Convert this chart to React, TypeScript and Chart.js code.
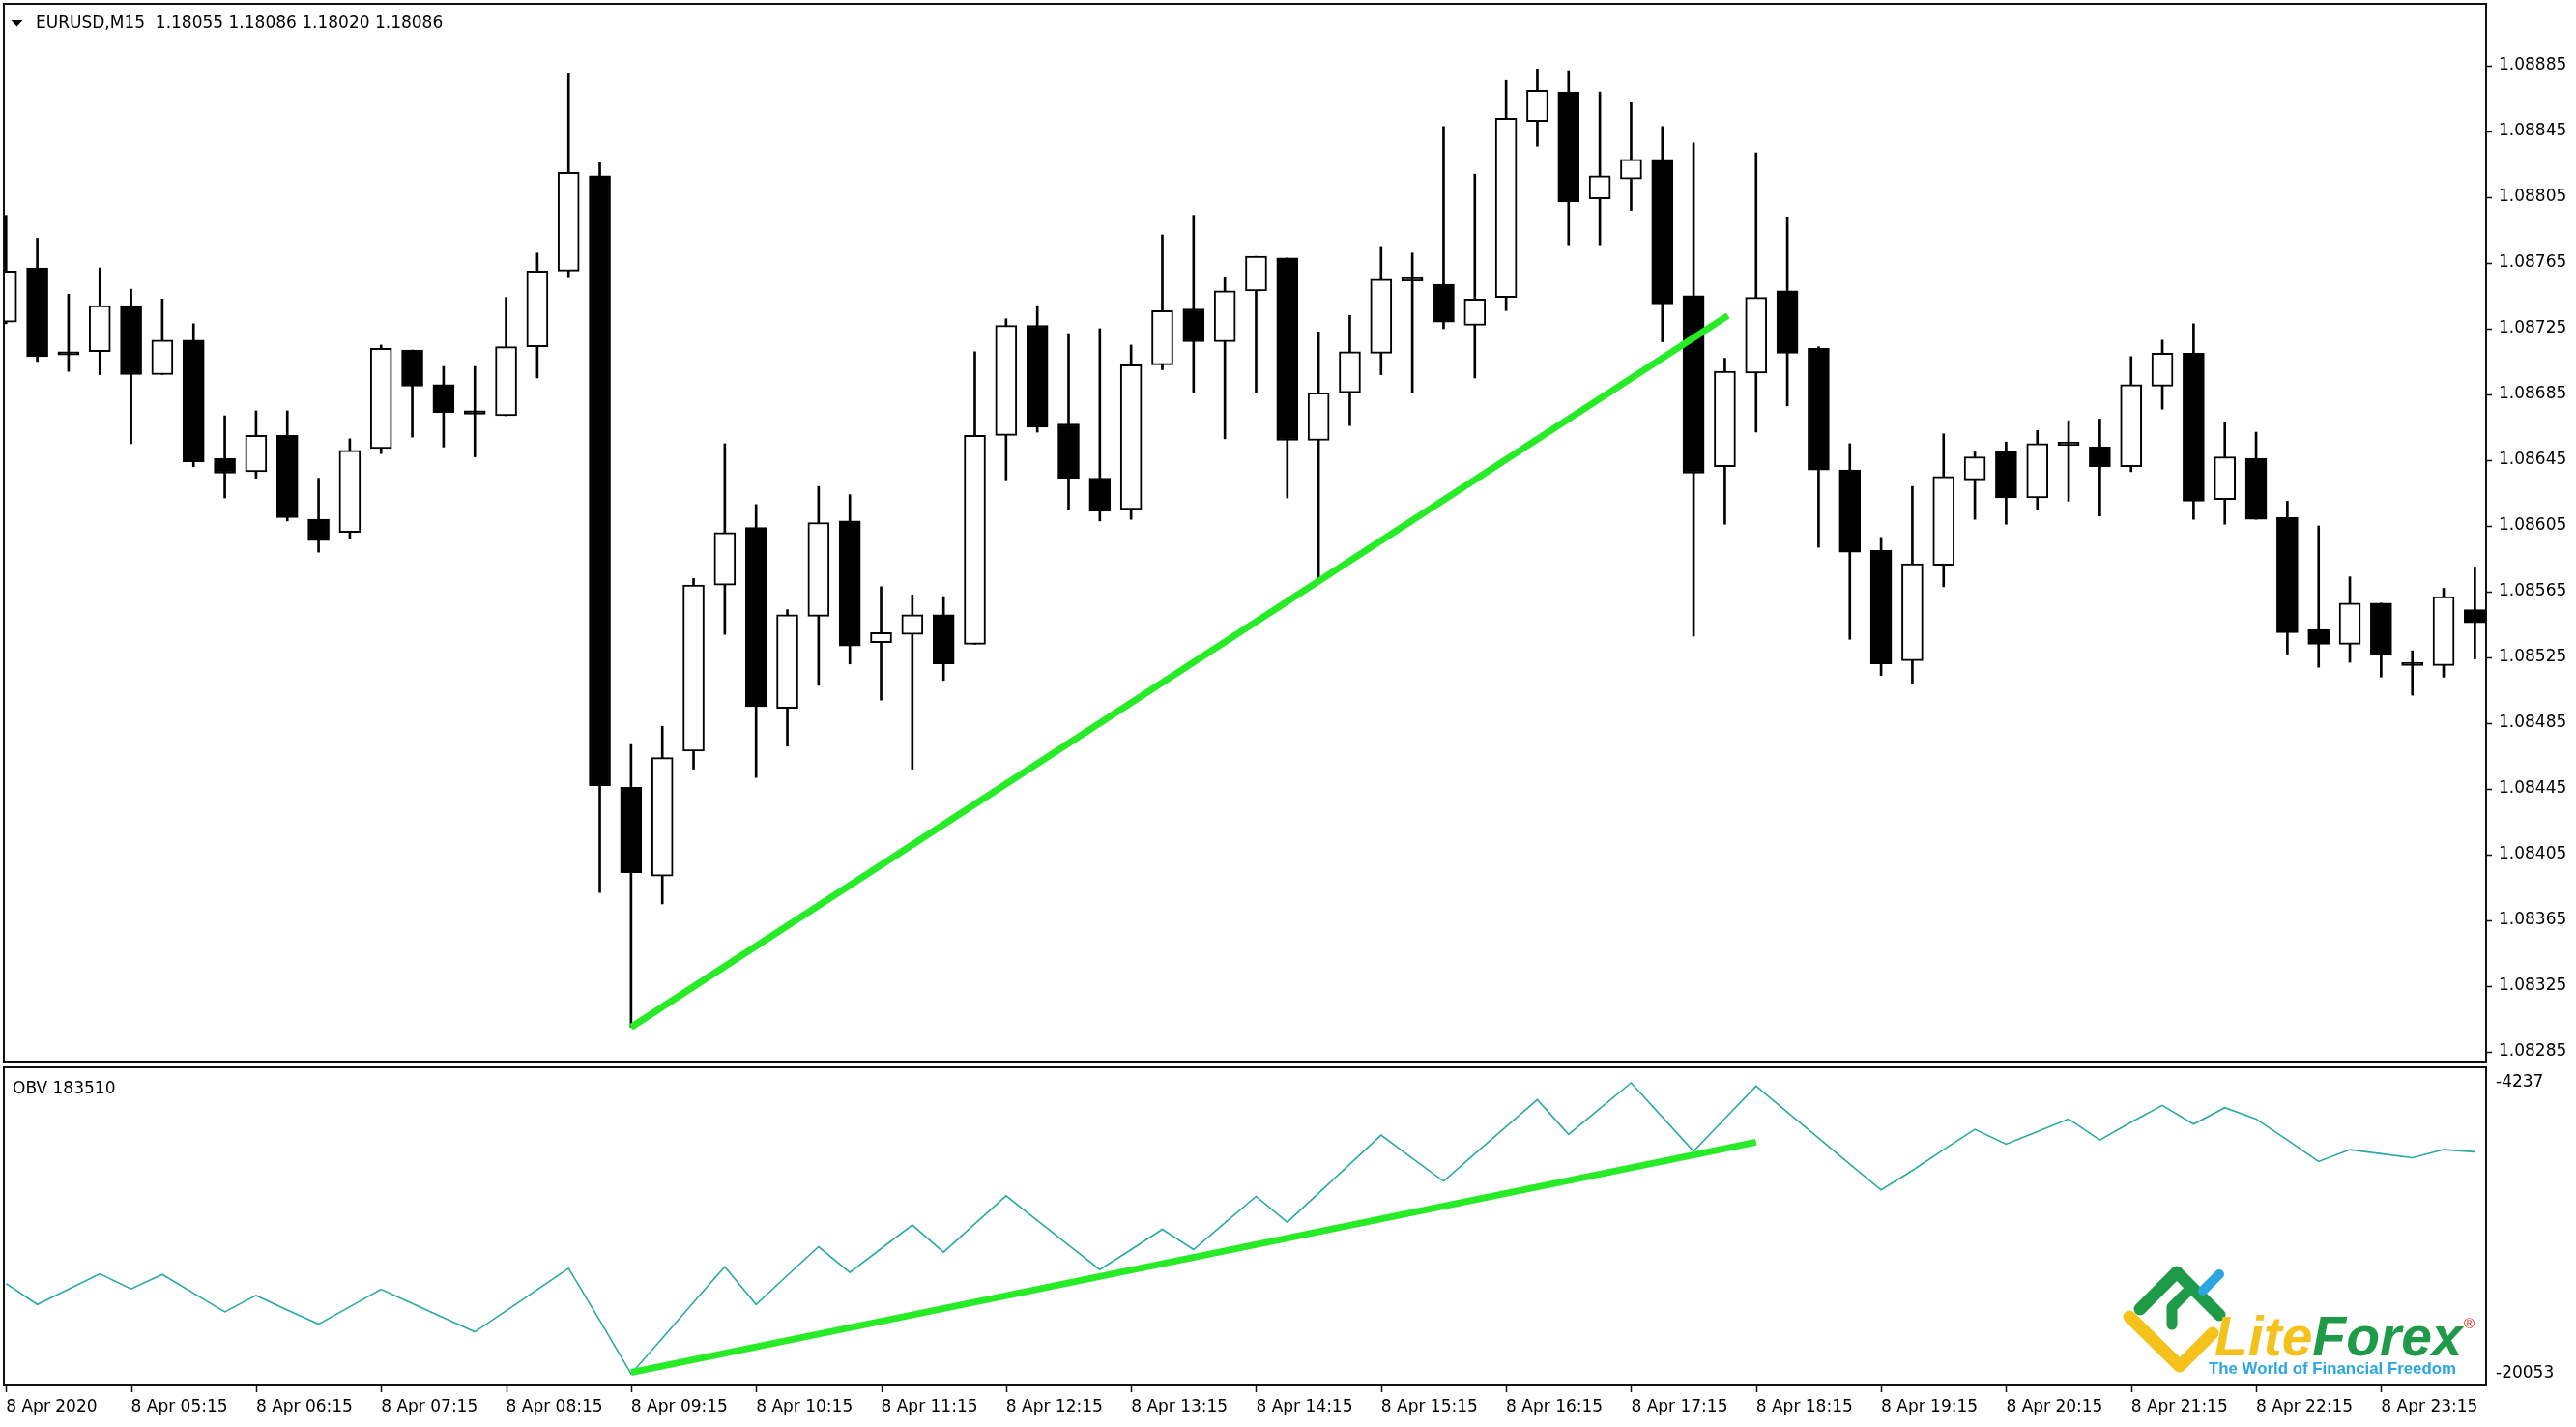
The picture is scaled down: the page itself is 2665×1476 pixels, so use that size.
import React, { useEffect, useRef } from "react";
import { Chart, registerables } from "chart.js";

Chart.register(...registerables);

// ---------------- data ----------------
const opens = [
  1.08729, 1.08762, 1.08711, 1.08711, 1.08739, 1.08697, 1.08718, 1.08646, 1.08638, 1.0866,
  1.08609, 1.08601, 1.08652, 1.08712, 1.08691, 1.08675, 1.08672, 1.08714, 1.0876, 1.08818,
  1.08446, 1.08392, 1.08468, 1.08569, 1.08604, 1.08494, 1.0855, 1.08608, 1.08534, 1.08539,
  1.08551, 1.08533, 1.0866, 1.08727, 1.08667, 1.08634, 1.08615, 1.08703, 1.08737, 1.08717,
  1.08748, 1.08768, 1.08657, 1.08686, 1.0871, 1.08756, 1.08752, 1.08727, 1.08744, 1.08851,
  1.08869, 1.08804, 1.08816, 1.08828, 1.08745, 1.08641, 1.08698, 1.08748, 1.08713, 1.08639,
  1.0859, 1.08523, 1.08581, 1.08633, 1.0865, 1.08622, 1.08656, 1.08653, 1.08641, 1.0869,
  1.0871, 1.08621, 1.08646, 1.0861, 1.08542, 1.08533, 1.08558, 1.08522, 1.0852, 1.08554,
];
const highs = [
  1.08794, 1.0878, 1.08746, 1.08762, 1.08749, 1.08743, 1.08728, 1.08672, 1.08675, 1.08675,
  1.08634, 1.08658, 1.08715, 1.08712, 1.08702, 1.08702, 1.08744, 1.08771, 1.0888, 1.08826,
  1.08472, 1.08483, 1.08573, 1.08655, 1.08618, 1.08554, 1.08629, 1.08624, 1.08568, 1.08563,
  1.08562, 1.08711, 1.08731, 1.08739, 1.08722, 1.08725, 1.08715, 1.08782, 1.08794, 1.08756,
  1.08769, 1.08768, 1.08723, 1.08733, 1.08775, 1.08771, 1.08848, 1.08819, 1.08876, 1.08883,
  1.08882, 1.08869, 1.08863, 1.08848, 1.08838, 1.08707, 1.08832, 1.08793, 1.08714, 1.08655,
  1.08598, 1.08629, 1.08661, 1.0865, 1.08656, 1.08663, 1.08669, 1.0867, 1.08708, 1.08718,
  1.08728, 1.08668, 1.08662, 1.0862, 1.08605, 1.08574, 1.08558, 1.08529, 1.08567, 1.0858,
];
const lows = [
  1.08728, 1.08705, 1.08699, 1.08697, 1.08655, 1.08697, 1.08641, 1.08622, 1.08634, 1.08608,
  1.08589, 1.08597, 1.08649, 1.08659, 1.08653, 1.08647, 1.08672, 1.08695, 1.08756, 1.08382,
  1.083, 1.08375, 1.08457, 1.08539, 1.08452, 1.08471, 1.08508, 1.08521, 1.08499, 1.08457,
  1.08511, 1.08533, 1.08633, 1.08662, 1.08615, 1.08608, 1.08609, 1.087, 1.08686, 1.08658,
  1.08686, 1.08622, 1.08571, 1.08666, 1.08697, 1.08686, 1.08725, 1.08695, 1.08736, 1.08836,
  1.08776, 1.08776, 1.08797, 1.08717, 1.08538, 1.08606, 1.08662, 1.08678, 1.08592, 1.08536,
  1.08514, 1.08509, 1.08568, 1.08609, 1.08606, 1.08615, 1.0862, 1.08611, 1.08638, 1.08676,
  1.08609, 1.08606, 1.08609, 1.08527, 1.08519, 1.08522, 1.08513, 1.08502, 1.08513, 1.08524,
];
const closes = [
  1.0876, 1.08708, 1.08709, 1.08739, 1.08697, 1.08718, 1.08644, 1.08637, 1.0866, 1.0861,
  1.08596, 1.08651, 1.08713, 1.0869, 1.08674, 1.08673, 1.08714, 1.0876, 1.0882, 1.08447,
  1.08394, 1.08464, 1.08569, 1.08601, 1.08495, 1.08551, 1.08607, 1.08532, 1.0854, 1.08551,
  1.08521, 1.0866, 1.08727, 1.08665, 1.08634, 1.08614, 1.08703, 1.08736, 1.08717, 1.08748,
  1.08769, 1.08657, 1.08686, 1.08711, 1.08755, 1.08754, 1.08729, 1.08743, 1.08853, 1.0887,
  1.08802, 1.08818, 1.08828, 1.0874, 1.08637, 1.08699, 1.08744, 1.0871, 1.08639, 1.08589,
  1.08521, 1.08582, 1.08635, 1.08647, 1.08622, 1.08655, 1.08654, 1.08641, 1.08691, 1.0871,
  1.0862, 1.08647, 1.08609, 1.0854, 1.08533, 1.08558, 1.08527, 1.0852, 1.08562, 1.08546,
];
const obvValues = [
  -15143, -16283, -15459, -14617, -15441, -14652, -15669, -16686, -15792, -16581,
  -17352, -16406, -15459, -16230, -17002, -17773, -16634, -15476, -14319, -17160,
  -20053, -18124, -16160, -14231, -16283, -14705, -13144, -14547, -13249, -11969,
  -13442, -11899, -10374, -11724, -13057, -14389, -13302, -12197, -13302, -11847,
  -10409, -11812, -10234, -8656, -7078, -8340, -9585, -8094, -6622, -5149,
  -7042, -5640, -4237, -6096, -7954, -6183, -4412, -5833, -7235, -8656,
  -10058, -9006, -7867, -6762, -7568, -6885, -6201, -7341, -6376, -5464,
  -6481, -5587, -6201, -7341, -8515, -7867, -8094, -8305, -7867, -7989,
];
const timeTickIndex = [0, 4, 8, 12, 16, 20, 24, 28, 32, 36, 40, 44, 48, 52, 56, 60, 64, 68, 72, 76];
const timeTickLabels = [
  "8 Apr 2020", "8 Apr 05:15", "8 Apr 06:15", "8 Apr 07:15", "8 Apr 08:15",
  "8 Apr 09:15", "8 Apr 10:15", "8 Apr 11:15", "8 Apr 12:15", "8 Apr 13:15",
  "8 Apr 14:15", "8 Apr 15:15", "8 Apr 16:15", "8 Apr 17:15", "8 Apr 18:15",
  "8 Apr 19:15", "8 Apr 20:15", "8 Apr 21:15", "8 Apr 22:15", "8 Apr 23:15",
];
const priceTicks = [
  1.08885, 1.08845, 1.08805, 1.08765, 1.08725, 1.08685, 1.08645, 1.08605,
  1.08565, 1.08525, 1.08485, 1.08445, 1.08405, 1.08365, 1.08325, 1.08285,
];
const obvTicks = [-4237, -20053];
const priceTrendX = [20, 55.1];
const priceTrendY = [1.083, 1.08733];
const obvTrendX = [20, 56];
const obvTrendY = [-19980, -7460];
const headerText = "EURUSD,M15  1.18055 1.18086 1.18020 1.18086";
const obvLabel = "OBV 183510";

// ---------------- layout ----------------
const W = 2665;
const MAIN_H = 1100;
const OBV_H = 376;
const X_MIN = -0.07;
const X_MAX = 79.36;
const FONT = '"DejaVu Sans", Tahoma, sans-serif';
const GREEN = "rgb(40,235,40)";

const framePlugin = (kind: "main" | "obv") => ({
  id: "frame_" + kind,
  afterDraw(chart: any) {
    const { ctx, chartArea: a } = chart;
    ctx.save();
    ctx.strokeStyle = "#111";
    ctx.lineWidth = 2;
    ctx.strokeRect(a.left, a.top, a.right - a.left, a.bottom - a.top);
    ctx.lineWidth = 1.5;
    ctx.beginPath();
    if (kind === "main") {
      const ys = chart.scales.y;
      for (const v of priceTicks) {
        const y = Math.round(ys.getPixelForValue(v)) + 0.5;
        ctx.moveTo(a.right, y);
        ctx.lineTo(a.right + 6, y);
      }
    } else {
      const xs = chart.scales.x;
      for (const v of timeTickIndex) {
        const x = Math.round(xs.getPixelForValue(v)) + 0.5;
        ctx.moveTo(x, a.bottom);
        ctx.lineTo(x, a.bottom + 7);
      }
    }
    ctx.stroke();

    ctx.fillStyle = "#000";
    ctx.font = `17px ${FONT}`;
    ctx.textBaseline = "middle";
    ctx.textAlign = "left";
    if (kind === "main") {
      ctx.beginPath();
      ctx.moveTo(11.5, 21);
      ctx.lineTo(23.5, 21);
      ctx.lineTo(17.5, 27.5);
      ctx.closePath();
      ctx.fill();
      ctx.fillText(headerText, 37, 24.5);
    } else {
      ctx.fillText(obvLabel, 13, 27);
      drawLogo(ctx, -MAIN_H);
    }
    ctx.restore();
  },
});

function drawLogo(ctx: CanvasRenderingContext2D, oy: number) {
  const stroke = (pts: number[][], color: string, w: number) => {
    ctx.beginPath();
    ctx.strokeStyle = color;
    ctx.lineWidth = w;
    ctx.lineCap = "round";
    ctx.lineJoin = "round";
    pts.forEach((p, i) => (i === 0 ? ctx.moveTo(p[0], p[1] + oy) : ctx.lineTo(p[0], p[1] + oy)));
    ctx.stroke();
  };
  stroke([[2203, 1362], [2255, 1413], [2289, 1379]], "#F5C11B", 13);
  stroke([[2214, 1354], [2252, 1316], [2296, 1360]], "#1F9A48", 13);
  stroke([[2247, 1370], [2247, 1352], [2262, 1337]], "#1F9A48", 11);
  stroke([[2279, 1335], [2296, 1318]], "#2AA7E1", 10);

  ctx.textBaseline = "alphabetic";
  ctx.textAlign = "left";
  ctx.font = 'italic bold 57px "Liberation Sans", Arial, sans-serif';
  ctx.fillStyle = "#F5C11B";
  ctx.fillText("Lite", 2291, 1402 + oy);
  const lw = ctx.measureText("Lite").width;
  ctx.fillStyle = "#1F9A48";
  ctx.fillText("Forex", 2291 + lw, 1402 + oy);
  ctx.font = '15px "Liberation Sans", Arial, sans-serif';
  ctx.fillStyle = "#E2231A";
  ctx.fillText("®", 2549, 1374 + oy);
  ctx.font = 'bold 17px "Liberation Sans", Arial, sans-serif';
  ctx.fillStyle = "#2AA7E1";
  ctx.fillText("The World of Financial Freedom", 2285, 1421 + oy, 256);
}

export default function App() {
  const mainRef = useRef<HTMLCanvasElement>(null);
  const obvRef = useRef<HTMLCanvasElement>(null);

  useEffect(() => {
    const idx = opens.map((_, i) => i);
    const wickData = idx.map((i) => ({ x: i, y: [lows[i], highs[i]] }));
    const bodyData = idx.map((i) => ({
      x: i,
      y: [Math.min(opens[i], closes[i]), Math.max(opens[i], closes[i])],
    }));
    const bodyColors = idx.map((i) => (closes[i] > opens[i] ? "#ffffff" : "#000000"));

    const tickFont = { family: FONT, size: 17 };

    const main = new Chart(mainRef.current as HTMLCanvasElement, {
      type: "bar",
      data: {
        datasets: [
          {
            type: "bar",
            data: wickData as any,
            backgroundColor: "#000",
            borderWidth: 0,
            barThickness: 2,
            grouped: false,
            order: 3,
          } as any,
          {
            type: "bar",
            data: bodyData as any,
            backgroundColor: bodyColors,
            borderColor: "#000",
            borderWidth: 2,
            borderSkipped: false,
            barThickness: 22,
            grouped: false,
            order: 2,
          } as any,
          {
            type: "line",
            data: priceTrendX.map((x, i) => ({ x, y: priceTrendY[i] })),
            borderColor: GREEN,
            borderWidth: 7,
            pointRadius: 0,
            order: 1,
          } as any,
        ],
      },
      options: {
        animation: false,
        responsive: false,
        maintainAspectRatio: false,
        devicePixelRatio: 1,
        events: [],
        layout: { padding: { left: 4, top: 4, right: 0, bottom: 2 } },
        plugins: { legend: { display: false }, tooltip: { enabled: false } },
        scales: {
          x: {
            type: "linear",
            min: X_MIN,
            max: X_MAX,
            offset: false,
            display: false,
          },
          y: {
            position: "right",
            min: 1.082791,
            max: 1.089226,
            grid: { display: false, drawTicks: false },
            border: { display: false },
            afterBuildTicks: (s: any) => {
              s.ticks = priceTicks.map((v) => ({ value: v }));
            },
            afterFit: (s: any) => {
              s.width = 93;
              s.paddingTop = 0;
              s.paddingBottom = 0;
            },
            ticks: {
              autoSkip: false,
              padding: 13,
              color: "#000",
              font: tickFont,
              callback: (v: any) => Number(v).toFixed(5),
            },
          } as any,
        },
      },
      plugins: [framePlugin("main")],
    });

    const obv = new Chart(obvRef.current as HTMLCanvasElement, {
      type: "line",
      data: {
        datasets: [
          {
            data: idx.map((i) => ({ x: i, y: obvValues[i] })),
            borderColor: "#2aa9a6",
            borderWidth: 1.6,
            pointRadius: 0,
            tension: 0,
            order: 2,
          },
          {
            data: obvTrendX.map((x, i) => ({ x, y: obvTrendY[i] })),
            borderColor: GREEN,
            borderWidth: 7,
            pointRadius: 0,
            order: 1,
          },
        ] as any,
      },
      options: {
        animation: false,
        responsive: false,
        maintainAspectRatio: false,
        devicePixelRatio: 1,
        events: [],
        layout: { padding: { left: 4, top: 4, right: 0, bottom: 0 } },
        plugins: { legend: { display: false }, tooltip: { enabled: false } },
        scales: {
          x: {
            type: "linear",
            min: X_MIN,
            max: X_MAX,
            offset: false,
            grid: { display: false, drawTicks: false },
            border: { display: false },
            afterBuildTicks: (s: any) => {
              s.ticks = timeTickIndex.map((v) => ({ value: v }));
            },
            afterFit: (s: any) => {
              s.height = 43;
              s.paddingLeft = 0;
              s.paddingRight = 0;
            },
            ticks: {
              autoSkip: false,
              maxRotation: 0,
              minRotation: 0,
              align: "start",
              padding: 12,
              color: "#000",
              font: tickFont,
              callback: (v: any) => {
                const k = timeTickIndex.indexOf(Number(v));
                return k >= 0 ? timeTickLabels[k] : "";
              },
            },
          } as any,
          y: {
            position: "right",
            min: -20684,
            max: -3396,
            grid: { display: false, drawTicks: false },
            border: { display: false },
            afterBuildTicks: (s: any) => {
              s.ticks = obvTicks.map((v) => ({ value: v }));
            },
            afterFit: (s: any) => {
              s.width = 93;
              s.paddingTop = 0;
              s.paddingBottom = 0;
            },
            ticks: {
              autoSkip: false,
              padding: 10,
              color: "#000",
              font: tickFont,
              callback: (v: any) => String(v),
            },
          } as any,
        },
      },
      plugins: [framePlugin("obv")],
    });

    return () => {
      main.destroy();
      obv.destroy();
    };
  }, []);

  return (
    <div
      style={{
        position: "absolute",
        left: 0,
        top: 0,
        width: W,
        height: 1476,
        background: "#fff",
        overflow: "hidden",
      }}
    >
      <canvas
        ref={mainRef}
        width={W}
        height={MAIN_H}
        style={{ position: "absolute", left: 0, top: 0, width: W, height: MAIN_H, display: "block" }}
      />
      <canvas
        ref={obvRef}
        width={W}
        height={OBV_H}
        style={{ position: "absolute", left: 0, top: MAIN_H, width: W, height: OBV_H, display: "block" }}
      />
    </div>
  );
}
